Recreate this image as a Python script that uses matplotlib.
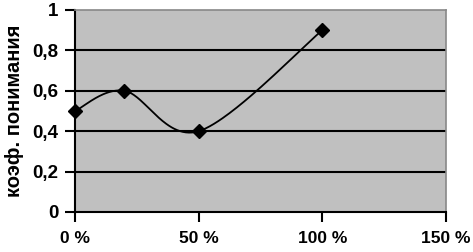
import matplotlib
matplotlib.use("Agg")
import matplotlib.pyplot as plt
import numpy as np

x_vals = [0, 20, 50, 100]
y_vals = [0.5, 0.6, 0.4, 0.9]
x_ticks = [0, 50, 100, 150]
x_labels = ["0 %", "50 %", "100 %", "150 %"]
y_ticks = [0, 0.2, 0.4, 0.6, 0.8, 1.0]
y_labels = ["0", "0,2", "0,4", "0,6", "0,8", "1"]
y_title = "коэф. понимания"

def smooth(xs, ys, n=60):
    xs = np.asarray(xs, float); ys = np.asarray(ys, float)
    px = np.concatenate([[xs[0]], xs, [xs[-1]]])
    py = np.concatenate([[ys[0]], ys, [ys[-1]]])
    ox, oy = [], []
    t = np.linspace(0, 1, n)
    for i in range(1, len(px) - 2):
        p0 = np.array([px[i], py[i]]); p3 = np.array([px[i+1], py[i+1]])
        c1 = p0 + (np.array([px[i+1], py[i+1]]) - np.array([px[i-1], py[i-1]])) / 6
        c2 = p3 - (np.array([px[i+2], py[i+2]]) - np.array([px[i], py[i]])) / 6
        b = ((1-t)**3)[:, None]*p0 + (3*(1-t)**2*t)[:, None]*c1 + (3*(1-t)*t**2)[:, None]*c2 + (t**3)[:, None]*p3
        ox.extend(b[:, 0]); oy.extend(b[:, 1])
    return ox, oy

plt.rcParams['font.family'] = ['Liberation Sans', 'DejaVu Sans']
fig = plt.figure(figsize=(4.73, 2.52), dpi=100)
ax = fig.add_axes([75/473, 40/252, (446-75)/473, (212-10)/252])
ax.set_facecolor('#C0C0C0')
ax.set_xlim(0, 150)
ax.set_ylim(0, 1)
for yv in y_ticks[1:-1]:
    ax.axhline(yv, color='black', lw=1.5, zorder=1)
sx, sy = smooth(x_vals, y_vals)
ax.plot(sx, sy, color='black', lw=1.3, zorder=3, clip_on=False)
ax.plot(x_vals, y_vals, linestyle='none', marker='D', ms=7.5, color='black', zorder=4, clip_on=False)
ax.set_xticks(x_ticks)
ax.set_xticklabels(x_labels, fontsize=12.5, fontweight='bold')
ax.set_yticks(y_ticks)
ax.set_yticklabels(y_labels, fontsize=13.5, fontweight='bold')
ax.tick_params(axis='x', direction='out', length=7, width=1.5, pad=7)
ax.tick_params(axis='y', direction='out', length=7, width=1.5, pad=5)
ax.set_ylabel(y_title, fontsize=14.5, fontweight='bold', labelpad=6)
for s in ['left', 'bottom']:
    ax.spines[s].set_color('black'); ax.spines[s].set_linewidth(1.5)
for s in ['top', 'right']:
    ax.spines[s].set_color('#888888'); ax.spines[s].set_linewidth(1.2)
fig.savefig('out.png', dpi=100)
